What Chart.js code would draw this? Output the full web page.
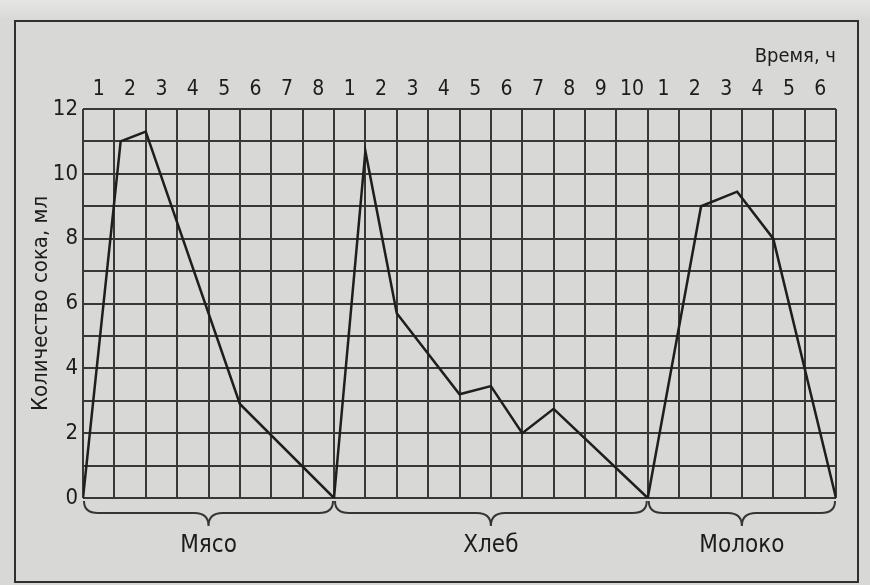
<!DOCTYPE html>
<html>
<head>
<meta charset="utf-8">
<script src="https://cdn.jsdelivr.net/npm/chart.js@4/dist/chart.umd.min.js"></script>
<style>
  html, body { margin: 0; padding: 0; background: #d8d8d6; }
  #wrap { width: 870px; height: 585px; }
</style>
</head>
<body>
<div id="wrap"><canvas id="c" width="870" height="585"></canvas></div>
<script>
// Hour labels along the top, restarting for each food
const hourLabels = ['1','2','3','4','5','6','7','8',
                    '1','2','3','4','5','6','7','8','9','10',
                    '1','2','3','4','5','6'];
const foodNames = ['Мясо', 'Хлеб', 'Молоко'];
const foodHours = [8, 10, 6];
const yLabelValues = [0, 2, 4, 6, 8, 10, 12];

// Juice volume (ml) against time (h, counted from the start of the record)
const meatTime  = [0, 1.2, 2, 5, 8];
const meatJuice = [0, 11, 11.3, 2.9, 0];
const breadTime  = [8, 9, 10, 12, 13, 14, 15, 18];
const breadJuice = [0, 10.7, 5.7, 3.2, 3.45, 2, 2.75, 0];
const milkTime  = [18, 19.7, 20.85, 22, 24];
const milkJuice = [0, 9, 9.45, 8, 0];

const totalHours = foodHours.reduce((a, b) => a + b, 0);
const FONT = "'Liberation Sans Narrow', 'DejaVu Sans Condensed', 'Liberation Sans', sans-serif";
const INK = '#1c1c1c';
const GRID = '#383838';

function pts(ts, vs) { return ts.map((t, i) => ({ x: t, y: vs[i] })); }

// Page background and outer frame
const paperPlugin = {
  id: 'paper',
  beforeDraw(chart) {
    const ctx = chart.ctx;
    ctx.save();
    ctx.fillStyle = '#d8d8d6';
    ctx.fillRect(0, 0, chart.width, chart.height);
    const g = ctx.createLinearGradient(0, 0, 0, 20);
    g.addColorStop(0, '#e6e6e4');
    g.addColorStop(1, '#d8d8d6');
    ctx.fillStyle = g;
    ctx.fillRect(0, 0, chart.width, 20);
    ctx.strokeStyle = '#303030';
    ctx.lineWidth = 2;
    ctx.strokeRect(15, 21, 843, 561);
    ctx.restore();
  }
};

// Curly braces under the axis grouping the hours of each food
function brace(ctx, x1, x2, yTop, yMid, yTip, r) {
  const xm = (x1 + x2) / 2;
  ctx.beginPath();
  ctx.moveTo(x1, yTop);
  ctx.quadraticCurveTo(x1, yMid, x1 + r, yMid);
  ctx.lineTo(xm - r, yMid);
  ctx.quadraticCurveTo(xm, yMid, xm, yTip);
  ctx.quadraticCurveTo(xm, yMid, xm + r, yMid);
  ctx.lineTo(x2 - r, yMid);
  ctx.quadraticCurveTo(x2, yMid, x2, yTop);
  ctx.stroke();
}

const bracePlugin = {
  id: 'braces',
  afterDatasetsDraw(chart) {
    const ctx = chart.ctx;
    const xs = chart.scales.x;
    const bottom = chart.chartArea.bottom;
    ctx.save();
    ctx.strokeStyle = '#353535';
    ctx.lineWidth = 2;
    ctx.fillStyle = INK;
    ctx.font = '24px ' + FONT;
    ctx.textAlign = 'center';
    ctx.textBaseline = 'middle';
    let start = 0;
    foodHours.forEach((h, i) => {
      const x1 = xs.getPixelForValue(start);
      const x2 = xs.getPixelForValue(start + h);
      brace(ctx, x1 + 1, x2 - 1, bottom + 3, bottom + 15, bottom + 28, 14);
      ctx.fillText(foodNames[i], (x1 + x2) / 2, bottom + 48);
      start += h;
    });
    ctx.restore();
  }
};

new Chart(document.getElementById('c'), {
  type: 'line',
  data: {
    datasets: [
      { label: foodNames[0], data: pts(meatTime, meatJuice) },
      { label: foodNames[1], data: pts(breadTime, breadJuice) },
      { label: foodNames[2], data: pts(milkTime, milkJuice) }
    ].map(d => Object.assign(d, {
      borderColor: '#1e1e1e', borderWidth: 2.5, pointRadius: 0,
      tension: 0, fill: false, xAxisID: 'x', yAxisID: 'y'
    }))
  },
  options: {
    responsive: false,
    animation: false,
    devicePixelRatio: 1,
    layout: { padding: { left: 0, right: 34, top: 0, bottom: 0 } },
    plugins: { legend: { display: false }, tooltip: { enabled: false } },
    scales: {
      x: {
        type: 'linear', position: 'bottom', min: 0, max: totalHours,
        ticks: { display: false, stepSize: 1 },
        grid: { color: GRID, lineWidth: 2, drawTicks: false },
        border: { display: false },
        afterFit(s) { s.height = 87; }
      },
      x2: {
        type: 'linear', position: 'top', min: 0, max: totalHours,
        afterBuildTicks(s) { s.ticks = hourLabels.map((_, i) => ({ value: i + 0.5 })); },
        ticks: {
          autoSkip: false, maxRotation: 0, padding: 7, color: INK,
          font: { family: FONT, size: 21 },
          callback: (v, i) => hourLabels[i]
        },
        grid: { display: false, drawTicks: false },
        border: { display: false },
        title: {
          display: true, text: 'Время, ч', align: 'end', color: INK,
          font: { family: FONT, size: 20 }, padding: { top: 45 }
        },
        afterFit(s) { s.height = 109; }
      },
      y: {
        type: 'linear', min: 0, max: 12,
        afterBuildTicks(s) {
          const t = [];
          for (let v = 0; v <= 12; v++) t.push({ value: v });
          s.ticks = t;
        },
        ticks: {
          autoSkip: false, padding: 5, color: INK,
          font: { family: FONT, size: 22 },
          callback: v => yLabelValues.includes(v) ? String(v) : ''
        },
        grid: { color: GRID, lineWidth: 2, drawTicks: false },
        border: { display: false },
        title: {
          display: true, text: 'Количество сока, мл', color: INK,
          font: { family: FONT, size: 22 }, padding: { top: 28 }
        },
        afterFit(s) { s.width = 83; }
      }
    }
  },
  plugins: [paperPlugin, bracePlugin]
});
</script>
</body>
</html>
